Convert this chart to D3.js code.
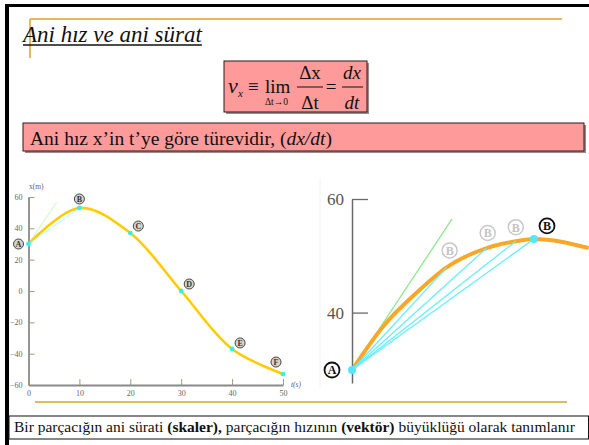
<!DOCTYPE html>
<html>
<head>
<meta charset="utf-8">
<script src="https://cdn.jsdelivr.net/npm/d3@7"></script>
<style>
  html, body { margin: 0; padding: 0; background: #fff; }
  svg { display: block; }
  text { font-family: "Liberation Serif", "Times New Roman", serif; }
</style>
</head>
<body>
<svg id="slide" width="589" height="445"></svg>
<script>
// Position x(t) of the particle, sampled at the lettered instants
const timesFull = [0, 10, 20, 30, 40, 50];          // s
const posFull = [30, 53, 37, 0, -37, -53];          // m
const pointNames = ["A", "B", "C", "D", "E", "F"];

// Close-up of the start of the motion (A to just past B)
const timesZoom = [0, 1.7, 3.6, 5.2, 7.4, 9, 10, 13];
const posZoom = [30, 37.6, 43.7, 48, 51.4, 52.6, 53, 51.4];

// Successive positions of B approaching A, and the tangent at A
const secantT = [5.2, 7.4, 9, 10];
const secantX = [48, 51.4, 52.6, 53];
const tangentT = [0, 5.5];
const tangentX = [30, 56.5];

// Tick labels
const fullYTicks = [-60, -40, -20, 0, 20, 40, 60];
const fullXTicks = [0, 10, 20, 30, 40, 50];
const zoomYTicks = [40, 60];

const svg = d3.select("#slide");
const serif = '"Liberation Serif", "Times New Roman", serif';
const gold = "#d6a530";

// ---------- slide frame ----------
svg.append("rect").attr("x", 5).attr("y", 4).attr("width", 584).attr("height", 3).attr("fill", "#000");
svg.append("rect").attr("x", 5).attr("y", 4).attr("width", 4).attr("height", 441).attr("fill", "#000");
svg.append("line").attr("x1", 30).attr("x2", 562).attr("y1", 19).attr("y2", 19)
  .attr("stroke", gold).attr("stroke-width", 1.5);
svg.append("line").attr("x1", 30).attr("x2", 30).attr("y1", 19).attr("y2", 58)
  .attr("stroke", gold).attr("stroke-width", 1.5);
svg.append("line").attr("x1", 35).attr("x2", 567).attr("y1", 402).attr("y2", 402)
  .attr("stroke", gold).attr("stroke-width", 1.5);

// ---------- title ----------
const title = svg.append("text").attr("x", 23).attr("y", 42)
  .attr("font-size", 23).attr("font-style", "italic").attr("fill", "#111")
  .text("Ani hız ve ani sürat");
const tw = title.node().getComputedTextLength();
svg.append("line").attr("x1", 23).attr("x2", 23 + tw).attr("y1", 45).attr("y2", 45)
  .attr("stroke", "#111").attr("stroke-width", 1.5);

// ---------- pink boxes ----------
function pinkBox(x, y, w, h) {
  svg.append("rect").attr("x", x + 2).attr("y", y + 2).attr("width", w).attr("height", h).attr("fill", "#9a8a8a");
  svg.append("rect").attr("x", x).attr("y", y).attr("width", w).attr("height", h)
    .attr("fill", "#ff9a9a").attr("stroke", "#2a1a1a").attr("stroke-width", 1);
}
pinkBox(224, 61, 143, 51);
pinkBox(23, 123, 561, 28);

// formula v_x ≡ lim Δx/Δt = dx/dt
const f = svg.append("g").attr("fill", "#111");
f.append("text").attr("x", 228).attr("y", 93).attr("font-size", 22).attr("font-style", "italic").text("v");
f.append("text").attr("x", 238).attr("y", 97).attr("font-size", 11).attr("font-style", "italic").text("x");
f.append("text").attr("x", 248).attr("y", 93).attr("font-size", 19).text("≡");
f.append("text").attr("x", 265).attr("y", 93).attr("font-size", 19).text("lim");
f.append("text").attr("x", 265).attr("y", 105).attr("font-size", 9.5).text("Δt→0");
f.append("text").attr("x", 310).attr("y", 79).attr("font-size", 19).attr("text-anchor", "middle").text("Δx");
f.append("text").attr("x", 310).attr("y", 109).attr("font-size", 19).attr("text-anchor", "middle").text("Δt");
f.append("line").attr("x1", 297).attr("x2", 323).attr("y1", 87).attr("y2", 87).attr("stroke", "#111").attr("stroke-width", 1);
f.append("text").attr("x", 331).attr("y", 93).attr("font-size", 19).attr("text-anchor", "middle").text("=");
f.append("text").attr("x", 352).attr("y", 79).attr("font-size", 19).attr("font-style", "italic").attr("text-anchor", "middle").text("dx");
f.append("text").attr("x", 352).attr("y", 109).attr("font-size", 19).attr("font-style", "italic").attr("text-anchor", "middle").text("dt");
f.append("line").attr("x1", 342).attr("x2", 363).attr("y1", 87).attr("y2", 87).attr("stroke", "#111").attr("stroke-width", 1);

const sub = svg.append("text").attr("x", 30).attr("y", 145).attr("font-size", 19.5).attr("fill", "#111");
sub.append("tspan").text("Ani hız x’in t’ye göre türevidir, (");
sub.append("tspan").attr("font-style", "italic").text("dx/dt");
sub.append("tspan").text(")");

// ---------- bottom statement ----------
svg.append("rect").attr("x", 9).attr("y", 416).attr("width", 579.5).attr("height", 23)
  .attr("fill", "#fff").attr("stroke", "#111").attr("stroke-width", 1);
const bt = svg.append("text").attr("x", 14).attr("y", 432).attr("font-size", 15.5).attr("fill", "#111");
bt.append("tspan").text("Bir parçacığın ani sürati ");
bt.append("tspan").attr("font-weight", "bold").text("(skaler),");
bt.append("tspan").text(" parçacığın hızının ");
bt.append("tspan").attr("font-weight", "bold").text("(vektör)");
bt.append("tspan").text(" büyüklüğü olarak tanımlanır");

// ---------- circled letter marker ----------
function badge(g, cx, cy, r, letter, style) {
  const b = g.append("g").attr("transform", `translate(${cx},${cy})`);
  b.append("circle").attr("r", r).attr("fill", style.fill)
    .attr("stroke", style.stroke).attr("stroke-width", style.sw);
  b.append("text").attr("text-anchor", "middle").attr("dy", "0.37em")
    .attr("font-family", '"DejaVu Sans", sans-serif').attr("font-weight", "bold")
    .attr("font-size", r * 1.6).attr("fill", style.text).text(letter);
}

// ---------- full x(t) graph ----------
const xL = d3.scaleLinear().domain([0, 50]).range([28.5, 283]);
const yL = d3.scaleLinear().domain([-60, 60]).range([385, 197]);
const gL = svg.append("g");

const axL = gL.append("g").attr("transform", `translate(${xL(0)},0)`)
  .call(d3.axisLeft(yL).tickValues(fullYTicks).tickSizeInner(-6).tickSizeOuter(0).tickPadding(6));
const axB = gL.append("g").attr("transform", `translate(0,${yL(-60)})`)
  .call(d3.axisBottom(xL).tickValues(fullXTicks).tickSizeInner(-6).tickSizeOuter(0).tickPadding(5));
[axL, axB].forEach(a => {
  a.select(".domain").attr("stroke", "#8a8a8a").attr("stroke-width", 1.8);
  a.selectAll(".tick line").attr("stroke", "#9a9a80").attr("stroke-width", 1);
  a.selectAll(".tick text").attr("font-family", serif).attr("font-size", 8).attr("fill", "#666");
});
gL.append("text").attr("x", 29).attr("y", 189).attr("font-size", 7.5).attr("fill", "#666").text("x(m)");
gL.append("text").attr("x", 291).attr("y", 387).attr("font-size", 7.5).attr("fill", "#666")
  .attr("font-style", "italic").text("t(s)");

const lineL = d3.line().x((d, i) => xL(timesFull[i])).y(d => yL(d)).curve(d3.curveCatmullRom);
gL.append("line").attr("x1", xL(tangentT[0])).attr("y1", yL(tangentX[0]))
  .attr("x2", xL(tangentT[1])).attr("y2", yL(tangentX[1]))
  .attr("stroke", "#c8f5c0").attr("stroke-width", 1);
gL.append("path").datum(posFull).attr("d", lineL).attr("fill", "none")
  .attr("stroke", "#ffcc00").attr("stroke-width", 2.6);
gL.append("line").attr("x1", xL(timesFull[0])).attr("y1", yL(posFull[0]))
  .attr("x2", xL(timesFull[1])).attr("y2", yL(posFull[1]))
  .attr("stroke", "#aaf8f8").attr("stroke-width", 1);
gL.selectAll("circle.pt").data(posFull).join("circle").attr("class", "pt")
  .attr("cx", (d, i) => xL(timesFull[i])).attr("cy", d => yL(d)).attr("r", 2.4).attr("fill", "#33f0f0");

const labelShiftL = { A: [-10, 0], B: [0, -9], C: [8, -7], D: [8, -7], E: [8, -6], F: [-7, -12] };
pointNames.forEach((n, i) => {
  const [dx, dy] = labelShiftL[n];
  badge(gL, xL(timesFull[i]) + dx, yL(posFull[i]) + dy, 5, n,
    { fill: "#d8d4c8", stroke: "#444", sw: 1, text: "#333" });
});

// ---------- close-up graph ----------
svg.append("line").attr("x1", 320).attr("x2", 320).attr("y1", 178).attr("y2", 388)
  .attr("stroke", "#f2f2f2").attr("stroke-width", 1);
const xR = d3.scaleLinear().domain([0, 10]).range([352, 534]);
const yR = d3.scaleLinear().domain([40, 60]).range([313, 199]);
const gR = svg.append("g");
gR.append("clipPath").attr("id", "clipR").append("rect")
  .attr("x", 340).attr("y", 180).attr("width", 249).attr("height", 220);

const axR = gR.append("g").attr("transform", `translate(${xR(0)},0)`)
  .call(d3.axisLeft(yR.copy().domain([27.6, 60]).range([383, 199])).tickValues(zoomYTicks)
    .tickSizeInner(-16).tickSizeOuter(0).tickPadding(8));
axR.select(".domain").attr("stroke", "#6a6a6a").attr("stroke-width", 1.5);
axR.selectAll(".tick line").attr("stroke", "#6a6a6a").attr("stroke-width", 1.3);
axR.selectAll(".tick text").attr("font-family", serif).attr("font-size", 17).attr("fill", "#555");

gR.append("line").attr("x1", xR(tangentT[0])).attr("y1", yR(tangentX[0]))
  .attr("x2", xR(tangentT[1])).attr("y2", yR(tangentX[1]))
  .attr("stroke", "#8ee88a").attr("stroke-width", 1.3);
const lineR = d3.line().x((d, i) => xR(timesZoom[i])).y(d => yR(d)).curve(d3.curveMonotoneX);
gR.append("path").datum(posZoom).attr("d", lineR).attr("fill", "none")
  .attr("clip-path", "url(#clipR)")
  .attr("stroke", "#f8a828").attr("stroke-width", 4);
gR.selectAll("line.sec").data(secantX).join("line").attr("class", "sec")
  .attr("x1", xR(tangentT[0])).attr("y1", yR(tangentX[0]))
  .attr("x2", (d, i) => xR(secantT[i])).attr("y2", d => yR(d))
  .attr("stroke", "#66eeff").attr("stroke-width", 1.3);
gR.append("circle").attr("cx", xR(timesZoom[0])).attr("cy", yR(posZoom[0])).attr("r", 4).attr("fill", "#55e6ff");
gR.append("circle").attr("cx", xR(secantT[3])).attr("cy", yR(secantX[3])).attr("r", 4).attr("fill", "#55e6ff");

const labelShiftR = [[3, -17], [1, -15], [0, -14], [13, -13]];
secantX.forEach((v, i) => {
  const [dx, dy] = labelShiftR[i];
  const last = i === secantX.length - 1;
  badge(gR, xR(secantT[i]) + dx, yR(v) + dy, 7.5, "B", last
    ? { fill: "#fff", stroke: "#111", sw: 1.8, text: "#111" }
    : { fill: "#fff", stroke: "#c8c8c8", sw: 1.5, text: "#c4c4c4" });
});
badge(gR, xR(0) - 20, yR(posZoom[0]), 7.5, "A", { fill: "#fff", stroke: "#111", sw: 1.8, text: "#111" });
</script>
</body>
</html>
